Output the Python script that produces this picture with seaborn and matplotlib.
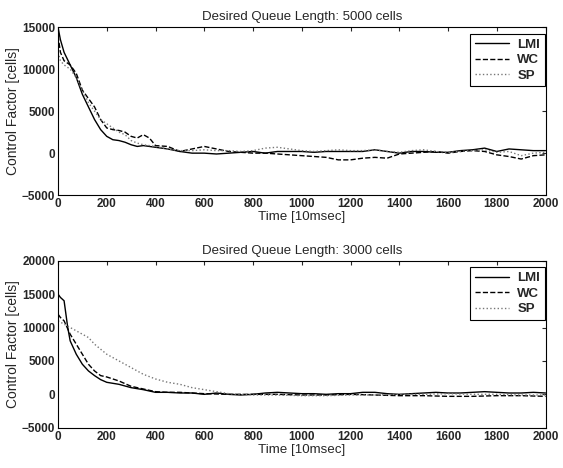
import seaborn as sns
import matplotlib.pyplot as plt

# Top panel: desired queue length 5000 cells
t1_lmi = [0, 10, 25, 50, 75, 100, 125, 150, 175, 200, 225, 250, 275, 300, 325, 350, 400, 450, 500, 550,
          600, 650, 700, 750, 800, 850, 900, 950, 1000, 1050, 1100, 1150, 1200, 1250, 1300, 1350, 1400,
          1450, 1500, 1550, 1600, 1650, 1700, 1750, 1800, 1850, 1900, 1950, 2000]
lmi_5000 = [15000, 13500, 12000, 10500, 9000, 7000, 5500, 4000, 2800, 2000, 1600, 1500, 1300, 1000, 800,
            900, 700, 500, 200, 0, 0, -100, 0, 100, 200, 0, 200, 200, 200, 100, 200, 200, 200, 200, 400,
            200, 0, 200, 200, 100, 100, 300, 400, 600, 200, 500, 400, 300, 300]

t1_wc = [0, 10, 25, 50, 75, 100, 125, 150, 175, 200, 225, 250, 275, 300, 325, 350, 375, 400, 450, 500,
         550, 600, 650, 700, 750, 800, 850, 900, 950, 1000, 1050, 1100, 1150, 1200, 1250, 1300, 1350,
         1400, 1450, 1500, 1550, 1600, 1650, 1700, 1750, 1800, 1850, 1900, 1950, 2000]
wc_5000 = [14000, 12000, 11000, 10500, 9500, 7500, 6500, 5500, 4000, 3000, 2800, 2700, 2500, 2000, 1800,
           2200, 1800, 900, 800, 200, 500, 800, 500, 200, 100, 0, 0, -100, -200, -300, -400, -500, -800,
           -800, -600, -500, -600, -100, 0, 100, 200, 0, 200, 300, 200, -200, -400, -700, -300, -200]

t1_sp = [0, 10, 25, 50, 75, 100, 125, 150, 175, 200, 225, 250, 275, 300, 325, 350, 400, 450, 500, 550,
         600, 650, 700, 750, 800, 850, 900, 950, 1000, 1050, 1100, 1150, 1200, 1250, 1300, 1350, 1400,
         1450, 1500, 1550, 1600, 1650, 1700, 1750, 1800, 1850, 1900, 1950, 2000]
sp_5000 = [12000, 11000, 10500, 10000, 9000, 7500, 6000, 5000, 4000, 3500, 3000, 2500, 2200, 1500, 1200,
           1000, 800, 500, 300, 300, 400, 300, 300, 200, 300, 600, 700, 500, 300, 200, 300, 400, 300, 300,
           400, 200, 100, 300, 400, 200, 100, 200, 300, 400, 100, 200, -300, 0, 100]

# Bottom panel: desired queue length 3000 cells
t2_lmi = [0, 10, 25, 40, 50, 75, 100, 125, 150, 175, 200, 250, 300, 350, 400, 450, 500, 550, 600, 650,
          700, 750, 800, 850, 900, 950, 1000, 1050, 1100, 1150, 1200, 1250, 1300, 1350, 1400, 1450, 1500,
          1550, 1600, 1650, 1700, 1750, 1800, 1850, 1900, 1950, 2000]
lmi_3000 = [15000, 14500, 14000, 10000, 8000, 6000, 4500, 3500, 2800, 2200, 1800, 1500, 1000, 700, 300,
            300, 200, 200, 0, 200, 0, -100, 0, 200, 300, 200, 100, 100, 0, 100, 100, 300, 300, 100, 0,
            100, 200, 300, 200, 200, 300, 400, 300, 200, 200, 300, 200]

t2_wc = [0, 10, 25, 50, 75, 100, 125, 150, 175, 200, 250, 300, 350, 400, 450, 500, 550, 600, 700, 800,
         900, 1000, 1100, 1200, 1300, 1400, 1500, 1600, 1700, 1800, 1900, 2000]
wc_3000 = [12000, 11500, 11000, 9000, 7500, 6000, 4500, 3500, 2800, 2600, 2000, 1200, 800, 400, 300, 300,
           200, 100, 0, 0, 0, -100, -100, 0, -100, -200, -200, -300, -300, -200, -200, -300]

t2_sp = [0, 25, 50, 75, 100, 125, 150, 200, 250, 300, 350, 400, 450, 500, 550, 600, 650, 700, 750, 800,
         900, 1000, 1100, 1200, 1300, 1400, 1500, 1600, 1700, 1800, 1900, 2000]
sp_3000 = [11000, 10500, 10000, 9500, 9000, 8500, 7500, 6000, 5000, 4000, 3000, 2300, 1800, 1500, 1000,
           700, 400, 100, 0, -100, -100, -200, -200, -100, -100, 0, 0, 100, 0, 0, -100, -100]

sns.set_style("white")
plt.rcParams['font.family'] = ['Liberation Sans', 'DejaVu Sans']

fig = plt.figure(figsize=(5.63, 4.68), dpi=100)
ax1 = fig.add_axes([0.103, 0.583, 0.866, 0.359])
ax2 = fig.add_axes([0.103, 0.086, 0.866, 0.357])

panels = [
    (ax1, "Desired Queue Length: 5000 cells", (-5000, 15000), range(-5000, 15001, 5000),
     [(t1_lmi, lmi_5000), (t1_wc, wc_5000), (t1_sp, sp_5000)]),
    (ax2, "Desired Queue Length: 3000 cells", (-5000, 20000), range(-5000, 20001, 5000),
     [(t2_lmi, lmi_3000), (t2_wc, wc_3000), (t2_sp, sp_3000)]),
]
names = ["LMI", "WC", "SP"]
styles = [dict(color="black", linestyle="-", linewidth=1.0),
          dict(color="black", linestyle="--", linewidth=1.0),
          dict(color="#777777", linestyle=":", linewidth=1.0)]

for ax, title, ylim, yticks, series in panels:
    for (t, v), name, st in zip(series, names, styles):
        sns.lineplot(x=t, y=v, ax=ax, label=name, **st)
    ax.set_xlim(0, 2000)
    ax.set_ylim(*ylim)
    ax.set_xticks(range(0, 2001, 200))
    ax.set_yticks(list(yticks))
    ax.tick_params(direction="in", top=True, right=True, length=3, width=0.8, pad=2)
    for lab in ax.get_xticklabels() + ax.get_yticklabels():
        lab.set_fontsize(8.5)
        lab.set_fontweight("bold")
    for s in ax.spines.values():
        s.set_color("black")
        s.set_linewidth(0.8)
    ax.set_title(title, fontsize=9.5, pad=5)
    ax.set_xlabel("Time [10msec]", fontsize=9.6, labelpad=1)
    ax.set_ylabel("Control Factor [cells]", fontsize=10, labelpad=1)
    leg = ax.legend(loc="upper right", bbox_to_anchor=(0.998, 0.96), borderaxespad=0,
                    fancybox=False, edgecolor="black", framealpha=1,
                    prop=dict(size=9.5, weight="bold"), handlelength=2.6,
                    borderpad=0.35, labelspacing=0.25, handletextpad=0.6)
    leg.get_frame().set_linewidth(0.8)

fig.savefig("out.png", dpi=100)
